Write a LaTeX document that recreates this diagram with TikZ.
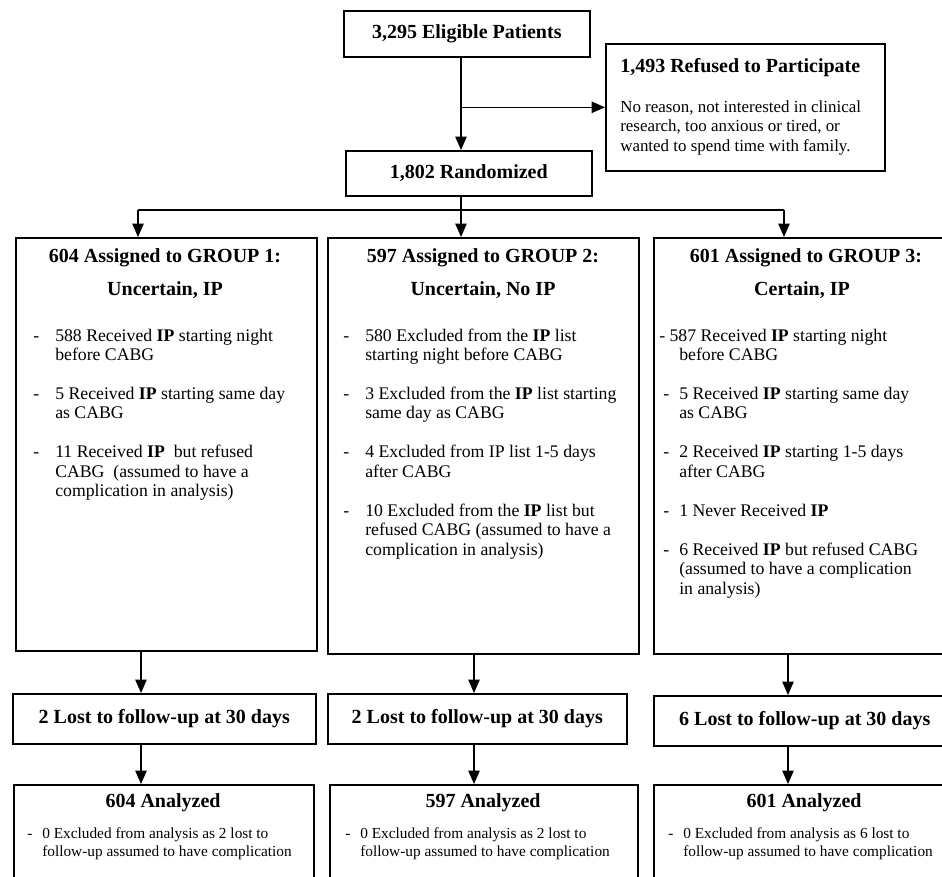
\documentclass[tikz,border=0pt]{standalone}
\usepackage{fontspec}
\setmainfont{Liberation Serif}
\usetikzlibrary{arrows.meta}
\newcommand{\dsh}[1][16.5pt]{\makebox[#1][l]{-}}

\begin{document}
\begin{tikzpicture}[x=0.75pt, y=-0.75pt, >={Triangle[length=10pt,width=8.5pt]},
		box/.style={draw, line width=1.2pt, inner sep=0pt},
		wh/.style 2 args={minimum width=#1*0.75pt, minimum height=#2*0.75pt},
		head/.style={font=\bfseries\fontsize{15}{18}\selectfont, inner sep=0pt},
		body/.style={font=\fontsize{13.3}{14.6}\selectfont, inner sep=0pt, anchor=base west},
		note/.style={font=\fontsize{12.7}{14.6}\selectfont, inner sep=0pt, anchor=base west},
		small/.style={font=\fontsize{11.5}{13.5}\selectfont, inner sep=0pt, anchor=base west},
		link/.style={->, line width=1pt}]
	\useasboundingbox (0,0) rectangle (942,877);
	\clip (0,0) rectangle (942,877);
	
	% --- enrolment ---
	\node[box, wh={246}{46}, head, anchor=north west] (elig) at (343,10) {3,295 Eligible Patients};
	\node[box, wh={246}{45}, head, anchor=north west] (rand) at (345,150) {1,802 Randomized};
	\node[box, wh={279}{127}, anchor=north west] (ref) at (605,43) {};
	\node[head, anchor=base west] (refh) at (620,73) {1,493 Refused to Participate};
	\node[note] (reft) at (620,112.5) {\begin{tabular}[t]{@{}l@{}}
			No reason, not interested in clinical\\
			research, too anxious or tired, or\\
			wanted to spend time with family.
		\end{tabular}};
	
	% --- allocation ---
	\node[box, wh={301}{413}, anchor=north west] (g1) at (15,237) {};
	\node[box, wh={311}{416}, anchor=north west] (g2) at (327,237) {};
	\node[box, wh={302}{416}, anchor=north west] (g3) at (653,237) {};
	
	\node[head] (g1a) at (165,258) {604 Assigned to GROUP 1:};
	\node[head] (g1b) at (165,290) {Uncertain, IP};
	\node[head] (g2a) at (483,258) {597 Assigned to GROUP 2:};
	\node[head] (g2b) at (483,290) {Uncertain, No IP};
	\node[head] (g3a) at (806,258) {601 Assigned to GROUP 3:};
	\node[head] (g3b) at (802,290) {Certain, IP};
	
	\node[body] (g1t) at (33,341) {\begin{tabular}[t]{@{}l@{}l@{}}
			\dsh & 588 Received \textbf{IP} starting night\\
			& before CABG\\[14.6pt]
			\dsh & 5 Received \textbf{IP} starting same day\\
			& as CABG\\[14.6pt]
			\dsh & 11 Received \textbf{IP}\ \ but refused\\
			& CABG\ \ (assumed to have a\\
			& complication in analysis)
		\end{tabular}};
	\node[body] (g2t) at (343,341) {\begin{tabular}[t]{@{}l@{}l@{}}
			\dsh & 580 Excluded from the \textbf{IP} list\\
			& starting night before CABG\\[14.6pt]
			\dsh & 3 Excluded from the \textbf{IP} list starting\\
			& same day as CABG\\[14.6pt]
			\dsh & 4 Excluded from IP list 1-5 days\\
			& after CABG\\[14.6pt]
			\dsh & 10 Excluded from the \textbf{IP} list but\\
			& refused CABG (assumed to have a\\
			& complication in analysis)
		\end{tabular}};
	\node[body] (g3t) at (663,341) {\begin{tabular}[t]{@{}l@{}l@{}}
			\multicolumn{2}{@{}l@{}}{\hspace*{-3pt}- 587 Received \textbf{IP} starting night}\\
			& before CABG\\[14.6pt]
			\dsh[12pt] & 5 Received \textbf{IP} starting same day\\
			& as CABG\\[14.6pt]
			\dsh[12pt] & 2 Received \textbf{IP} starting 1-5 days\\
			& after CABG\\[14.6pt]
			\dsh[12pt] & 1 Never Received \textbf{IP}\\[14.6pt]
			\dsh[12pt] & 6 Received \textbf{IP} but refused CABG\\
			& (assumed to have a complication\\
			& in analysis)
		\end{tabular}};
	
	% --- follow-up ---
	\node[box, wh={303}{50}, head, anchor=north west] (lost1) at (12,693) {2 Lost to follow-up at 30 days};
	\node[box, wh={299}{50}, head, anchor=north west] (lost2) at (327,693) {2 Lost to follow-up at 30 days};
	\node[box, wh={302}{50}, head, anchor=north west] (lost3) at (653,695) {6 Lost to follow-up at 30 days};
	
	% --- analysis ---
	\node[box, wh={300}{120}, anchor=north west] (an1) at (13,784) {};
	\node[box, wh={308}{120}, anchor=north west] (an2) at (329,784) {};
	\node[box, wh={302}{120}, anchor=north west] (an3) at (653,784) {};
	\node[head] (an1h) at (163,803) {604 Analyzed};
	\node[head] (an2h) at (483,803) {597 Analyzed};
	\node[head] (an3h) at (804,803) {601 Analyzed};
	\node[small] (an1t) at (27,838) {\begin{tabular}[t]{@{}l@{}l@{}}
			\dsh[11.25pt] & 0 Excluded from analysis as 2 lost to\\
			& follow-up assumed to have complication
		\end{tabular}};
	\node[small] (an2t) at (345,838) {\begin{tabular}[t]{@{}l@{}l@{}}
			\dsh[11.25pt] & 0 Excluded from analysis as 2 lost to\\
			& follow-up assumed to have complication
		\end{tabular}};
	\node[small] (an3t) at (668,838) {\begin{tabular}[t]{@{}l@{}l@{}}
			\dsh[11.25pt] & 0 Excluded from analysis as 6 lost to\\
			& follow-up assumed to have complication
		\end{tabular}};
	
	% --- connectors ---
	\coordinate (trunk) at (461,0);
	\coordinate (bus) at (0,210);
	\coordinate (c1) at (138,0);
	\coordinate (c3) at (784,0);
	\coordinate (d1) at (141,0);
	\coordinate (d2) at (474,0);
	\coordinate (d3) at (788,0);
	
	\draw[link] (elig.south -| trunk) -- (rand.north -| trunk);
	\draw[link] (trunk |- ref.west) -- (ref.west);
	\draw[line width=1pt] (rand.south -| trunk) -- (trunk |- bus);
	\draw[line width=1pt] (bus -| c1) -- (bus -| c3);
	\foreach \g/\c in {g1/c1, g2/trunk, g3/c3}
		\draw[link] (bus -| \c) -- (\g.north -| \c);
	\foreach \g/\d in {1/d1, 2/d2, 3/d3} {
		\draw[link] (g\g.south -| \d) -- (lost\g.north -| \d);
		\draw[link] (lost\g.south -| \d) -- (an\g.north -| \d);
	}
\end{tikzpicture}
\end{document}
